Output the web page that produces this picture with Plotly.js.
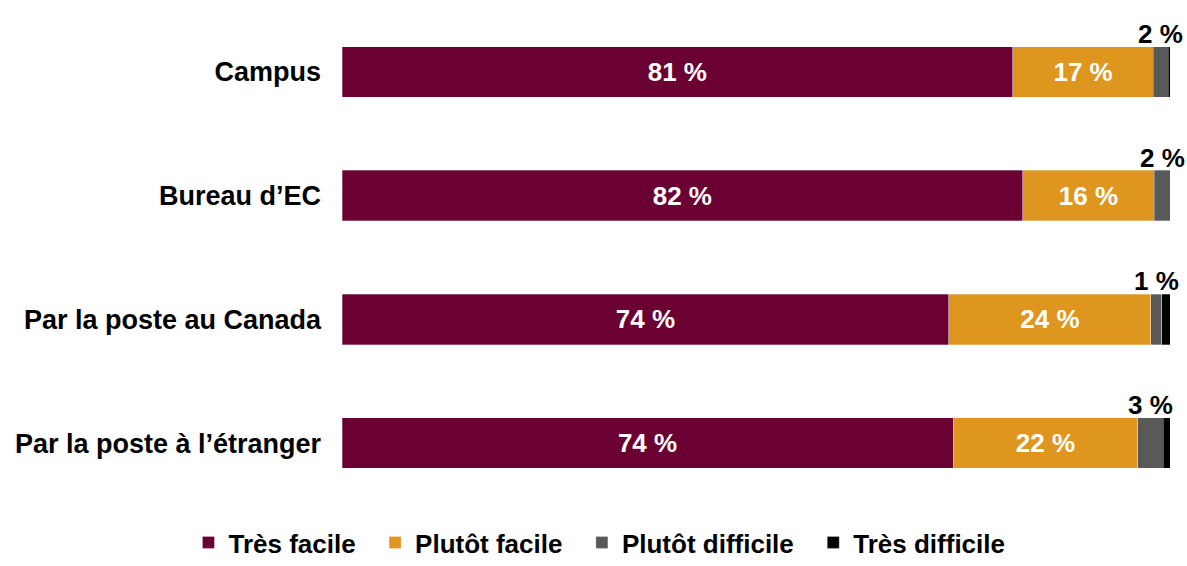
<!DOCTYPE html>
<html>
<head>
<meta charset="utf-8">
<script src="https://cdn.plot.ly/plotly-3.0.1.min.js"></script>
<style>html,body{margin:0;padding:0;background:#fff;}</style>
</head>
<body>
<div id="chart" style="width:1187px;height:566px;"></div>
<script>
const categories = ["Campus", "Bureau d’EC", "Par la poste au Canada", "Par la poste à l’étranger"];
const seriesNames = ["Très facile", "Plutôt facile", "Plutôt difficile", "Très difficile"];
const colors = ["#6B0033", "#DE961E", "#595959", "#000000"];
const tresFacile = [81, 82.2, 73.3, 73.8];
const plutotFacile = [17, 15.9, 24.4, 22.3];
const plutotDifficile = [1.8, 1.9, 1.3, 3.1];
const tresDifficile = [0.2, 0, 1.0, 0.8];
const tresFacileLabels = ["81 %", "82 %", "74 %", "74 %"];
const plutotFacileLabels = ["17 %", "16 %", "24 %", "22 %"];
const outsideLabels = ["2 %", "2 %", "1 %", "3 %"];

const values = [tresFacile, plutotFacile, plutotDifficile, tresDifficile];
const labels = [tresFacileLabels, plutotFacileLabels, null, null];
const font = "Liberation Sans, Arial, sans-serif";
const pad = "\u00a0\u00a0";

const traces = values.map((v, i) => ({
  type: "bar",
  orientation: "h",
  name: seriesNames[i] + (i < seriesNames.length - 1 ? pad : ""),
  y: categories,
  x: v,
  marker: {color: colors[i], line: {color: "rgba(255,255,255,0.6)", width: 0.5}},
  width: 0.41,
  text: labels[i] || undefined,
  texttemplate: labels[i] ? "%{text}" : undefined,
  textposition: labels[i] ? "inside" : "none",
  insidetextanchor: "middle",
  textfont: {color: "#fff", size: 26, family: font, weight: "bold"},
  hoverinfo: "skip"
}));

const annotations = categories.map((c, k) => ({
  x: tresFacile[k] + plutotFacile[k] + plutotDifficile[k] / 2,
  y: c,
  xref: "x", yref: "y",
  text: "<b>" + outsideLabels[k] + "</b>",
  showarrow: false,
  yanchor: "bottom",
  yshift: 21,
  font: {size: 26, family: font, color: "#000"}
}));

Plotly.newPlot("chart", traces, {
  width: 1187, height: 566,
  margin: {l: 342, r: 17, t: 10, b: 61},
  barmode: "stack",
  paper_bgcolor: "#fff",
  plot_bgcolor: "#fff",
  showlegend: true,
  legend: {
    orientation: "h", traceorder: "normal",
    xref: "container", yref: "container",
    x: 0.505, xanchor: "center", y: 0, yanchor: "bottom",
    font: {size: 26, family: font, color: "#000", weight: "bold"},
    itemwidth: 30, tracegroupgap: 0
  },
  xaxis: {range: [0, 100], visible: false, fixedrange: true},
  yaxis: {
    autorange: "reversed",
    showgrid: false, zeroline: false, showline: false, ticks: "",
    ticklabelstandoff: 20,
    tickfont: {size: 27, family: font, color: "#000", weight: "bold"}
  },
  annotations: annotations
}, {displayModeBar: false, staticPlot: true});
</script>
</body>
</html>
